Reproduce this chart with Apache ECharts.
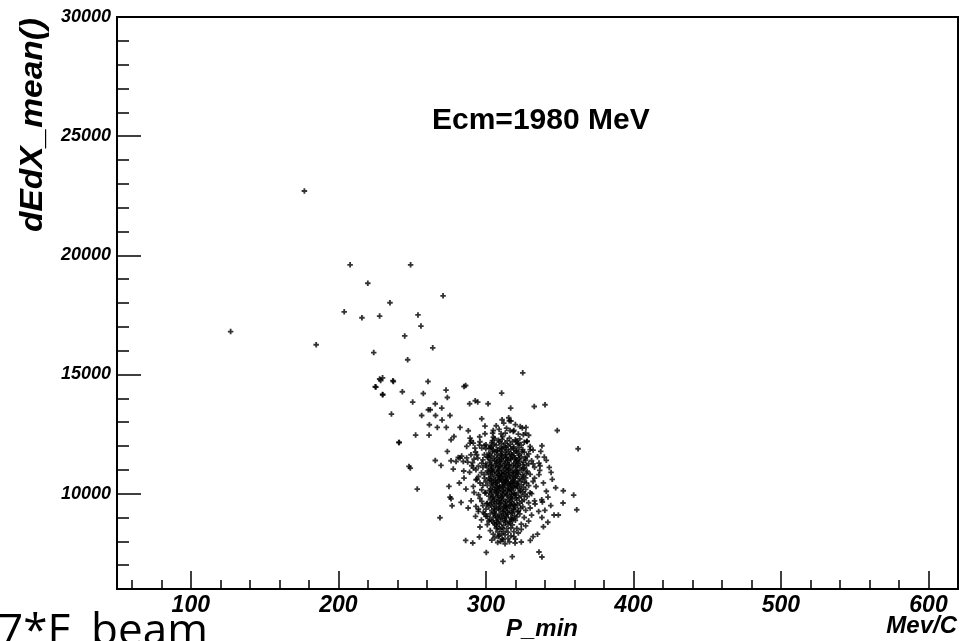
<!DOCTYPE html>
<html><head><meta charset="utf-8">
<script src="https://cdn.jsdelivr.net/npm/echarts@6/dist/echarts.min.js"></script>
<style>html,body{margin:0;padding:0;background:#fff;overflow:hidden}#c{width:967px;height:641px}</style>
</head><body><div id="c"></div>
<script>
// Axis tick labels
const xTicks = [100, 200, 300, 400, 500, 600];
const yTicks = [10000, 15000, 20000, 25000, 30000];
const xRange = [50, 620];
const yRange = [6000, 30000];
const chartTitle = 'Ecm=1980 MeV';
const xTitle = 'P_min';
const xUnit = 'Mev/C';
const yTitle = 'dEdX_mean()';
const cornerNote = '7*E_beam';

// Scattered outliers (P_min, dEdX_mean)
const outerPoints = [
  [127,16800],[177,22700],[185,16250],[208,19600],[220,18830],[235,18010],[204,17630],[216,17380],
  [228,17450],[249,19600],[271,18300],[254,17500],[256,17030],[245,16620],[264,16120],[247,15620],
  [224,15920],[228,14810],[230,14860],[237,14740],[225,14485],[230,14160],[236,13340],[241,12150],[325,15070],
  [225.5,14472],[228.7,14749],[237.3,14707],[260.8,14707],[230.1,14149],[243.4,14275],[257.6,14203],
  [273,14346],[273.9,14036],[285.2,14497],[286.3,14539],[250.4,13843],[265.7,13771],[261,13520],
  [262.3,13520],[270.1,13591],[289,13771],[292.8,13897],[294.5,13843],[301.5,13771],[310.7,14220],
  [256.5,13281],[265.9,13281],[275.7,13281],[270.3,13088],[316.8,13591],[332.8,13658],[340.1,13730],
  [297.2,13142],[315.5,13184],[315.9,13058],[261.7,12891],[267.1,12778],[273.2,12778],[282.5,12778],
  [299.4,12836],[312.1,12962],[288.1,12639],[241.3,12148],[252.4,12459],[261.5,12459],[278.4,12400],
  [276.4,12262],[289.3,12333],[295.8,12388],[299.4,12513],[348.4,12652],[362.5,11884]
];
// Points around the main cluster
const haloPoints = [
  [247.9,11142],[248.8,11075],[253.5,10194],[265.7,11393],[269.6,11184],[273.9,11771],[276.4,11381],
  [275,10303],[275.7,9858],[276.4,9787],[277.1,9494],[283.2,9632],[282,10446],[285.2,10655],[286.5,10194],[268.9,8990],
  [286.3,8038],[291.1,7929],[295.6,8181],[300.3,7535],[311.6,7158],[317.9,7355],[319.8,7929],[324,7971],
  [330.1,8038],[336,7552],[338,7342],[339,8613],[346.2,9104],[349.1,9104],[352.3,9607],[359.5,9942],
  [361.6,9326],[347.3,10249],[352.5,10123],[344.2,10890],[342.1,9858],[337.9,9745],[338.3,9649],[333.3,9565],[335.8,9255],
  [337.2,11771],[339.6,11536],[338,12010],[336,11284],[336.7,11171],[336.5,10974],[327.7,12190],[325.4,12471],
  [327,12543],[324.7,12752],[327.2,12778],[323.3,12819],[316.4,12652],[318.6,12610],[313.2,12543],[304.6,12543],
  [305,12375],[310.3,12513],[311.4,12400],
  [289.9,11633],[293.8,11633],[281.3,11519],[282.5,11494],[283.6,11578],[279.8,11351],[284.7,11351],[287.7,11326],
  [277.9,11033],[291.5,11075],[293.3,11003],[290.4,11171],[292,11452],[294.5,11494],[295,10722],[297.2,11914],
  [295.6,12039],[292.6,11914],[291.5,12123],[289.3,12123],[290.1,12220],[287,11981],[300.1,12052],[302.3,11914],
  [299,11633],[301.5,11519],[297.2,11284],[300.1,11171],[293.3,10584],[291.5,10303],[297.2,10165],[296,10446],
  [295,9955],[299.4,10026],[297.2,9674],[300.6,9577],
  [293.3,9464],[294.9,9255],[298.3,9213],[300.1,9045],[302.7,8906],[305.5,8768],[307.4,8625],[309.6,8516],
  [310.7,8319],[308.4,8206],[310,7996],[311.8,8068],
  [296,12180],[293,11750],[298,11420],[291,11300],[295,11150],[297,10880],[289,10900],[294,10600],[298,10350],
  [292,10050],[296,9800],[290,9700],[298,9500],[295,9350],[299,9150],[293,9050],[297,8900],[301,8700],[296,8600],
  [303,8450],[288,9400],[285,10950],[287,11500],[299,12020],[300,11880],[298,11100],[299,10650],[300,9350],
  [301,9050],[302,8850],[305,8300],[306,8150],[304,8050],[308,7950],[313,7900],[316,7980],[319,8200],[322,8350],
  [324,8500],[327,8650],[329,8850],[331,9100],[330,9400],[333,9700],[331,10000],[334,10300],[333,10650],[336,10800],
  [332,11250],[335,11550],[330,11850],[328,12200],[329,12450],[322,12500],[319,12650],[309,12700],[307,12850],
  [314,12750],[320,12900],[317,13050],[311,13100],[305,12650],
  [341,11400],[343,11100],[345,10600],[339,10450],[341,10100],[344,9500],[340,9300],[338,9000],[342,8800],[335,8300],[332,8200]
];
// Dense core of the cluster
const corePoints = [
  [306,12310],[311,12280],[316,12330],[320,12260],[323,12300],
  [304,12140],[309,12170],[313,12120],[318,12180],[322,12130],[326,12160],
  [303,11990],[307,12030],[312,11970],[315,12010],[319,11960],[324,12040],[330,11980],
  [305,11860],[308,11820],[311,11880],[314,11840],[317,11870],[321,11810],[325,11850],[332,11830],
  [302,11700],[306,11730],[310,11680],[313,11720],[316,11660],[319,11710],[322,11690],[326,11740],[329,11670],
  [301,11540],[304,11570],[308,11520],[311,11560],[314,11530],[318,11580],[320,11510],[324,11550],[328,11560],
  [303,11410],[306,11380],[309,11420],[312,11370],[315,11400],[317,11430],[321,11390],[323,11360],[327,11410],[331,11380],
  [300,11250],[304,11230],[307,11270],[310,11240],[313,11260],[316,11220],[319,11280],[322,11250],[325,11210],[329,11260],
  [302,11100],[305,11080],[308,11120],[311,11090],[314,11110],[317,11070],[320,11130],[323,11100],[326,11080],[333,11110],
  [301,10950],[304,10970],[306,10930],[309,10960],[312,10940],[315,10980],[318,10920],[321,10950],[324,10970],[328,10940],
  [299,10800],[303,10820],[306,10780],[309,10810],[311,10790],[314,10830],[316,10770],[319,10800],[322,10820],[325,10790],[330,10810],
  [302,10650],[305,10630],[308,10670],[310,10640],[313,10660],[315,10620],[318,10650],[320,10680],[323,10640],[327,10660],
  [300,10500],[304,10520],[307,10480],[309,10510],[312,10490],[314,10530],[317,10470],[319,10500],[322,10520],[326,10490],[332,10510],
  [301,10350],[305,10370],[308,10330],[311,10360],[313,10340],[316,10380],[318,10320],[321,10350],[324,10370],[329,10340],
  [303,10200],[306,10180],[309,10220],[312,10190],[315,10210],[317,10170],[320,10230],[323,10200],[327,10180],
  [300,10050],[304,10070],[307,10030],[310,10060],[313,10040],[316,10080],[319,10020],[322,10050],[325,10070],[330,10040],
  [302,9900],[305,9880],[308,9920],[311,9890],[314,9910],[317,9870],[320,9930],[324,9900],[328,9880],
  [303,9750],[306,9770],[309,9730],[312,9760],[315,9740],[318,9780],[321,9720],[326,9750],
  [301,9600],[304,9620],[307,9580],[310,9610],[313,9590],[316,9630],[319,9570],[323,9600],[329,9620],
  [302,9450],[306,9470],[309,9430],[312,9460],[314,9440],[317,9480],[320,9420],[325,9450],
  [304,9300],[307,9320],[310,9280],[313,9310],[316,9290],[319,9330],[322,9270],[327,9300],
  [303,9150],[306,9170],[309,9130],[312,9160],[315,9140],[318,9180],[323,9150],
  [305,9000],[308,9020],[311,8980],[314,9010],[317,8990],[321,9030],[326,9000],
  [304,8850],[307,8870],[310,8830],[313,8860],[316,8840],[320,8880],
  [306,8700],[309,8720],[312,8680],[315,8710],[318,8690],[324,8720],
  [307,8550],[311,8570],[314,8530],[317,8560],[321,8540],
  [308,8400],[312,8420],[315,8380],[319,8410],
  [309,8250],[313,8270],[317,8230],
  [311,8100],[315,8120],[320,8090],
  [310.5,11775],[313.5,11625],[316.5,11475],[309.5,11325],[312.5,11175],[315.5,11025],[318.5,10875],[310.5,10725],
  [313.5,10575],[316.5,10425],[311.5,10275],[314.5,10125],[317.5,9975],[310.5,9825],[313.5,9675],[316.5,9525],
  [311.5,9375],[307.5,11625],[319.5,11475],[306.5,11175],[318.5,11175],[307.5,10875],[312.5,10875],[316.5,10725],
  [306.5,10575],[319.5,10425],[307.5,10275],[318.5,10275],[308.5,10125],[311.5,9975],[320.5,9825],[307.5,9675],
  [319.5,9525],[308.5,9375],[314.5,9225],[310.5,9075],[317.5,8925],
  [304.5,12225],[308.5,12245],[314.5,12215],[320.5,12205],
  [305.5,12075],[310.5,12095],[316.5,12065],[321.5,12085],
  [303.5,11925],[309.5,11915],[313.5,11945],[318.5,11905],[322.5,11935],
  [304.5,11775],[307.5,11795],[315.5,11765],[320.5,11785],[324.5,11765],
  [302.5,11625],[310.5,11605],[317.5,11635],[322.5,11615],
  [305.5,11475],[310.5,11455],[313.5,11495],[322.5,11465],[326.5,11485],
  [302.5,11325],[307.5,11345],[314.5,11315],[320.5,11335],[325.5,11315],
  [303.5,11175],[309.5,11165],[315.5,11195],[321.5,11175],[327.5,11185],
  [303.5,11025],[308.5,11015],[313.5,11045],[320.5,11005],[325.5,11035],
  [301.5,10875],[304.5,10895],[310.5,10865],[315.5,10885],[321.5,10875],[327.5,10865],
  [303.5,10725],[308.5,10745],[313.5,10715],[320.5,10735],[325.5,10725],
  [302.5,10575],[309.5,10585],[311.5,10565],[318.5,10575],[324.5,10595],
  [303.5,10425],[306.5,10445],[312.5,10415],[314.5,10435],[321.5,10425],[327.5,10445],
  [304.5,10275],[309.5,10295],[315.5,10265],[321.5,10285],[325.5,10275],
  [302.5,10125],[306.5,10145],[311.5,10115],[317.5,10135],[323.5,10125],
  [303.5,9975],[307.5,9995],[314.5,9965],[319.5,9985],[326.5,9975],
  [304.5,9825],[308.5,9845],[316.5,9815],[322.5,9835],
  [305.5,9675],[310.5,9695],[317.5,9665],[324.5,9685],
  [303.5,9525],[309.5,9545],[313.5,9515],[321.5,9535],
  [305.5,9375],[314.5,9395],[318.5,9365],[323.5,9385],
  [305.5,9225],[311.5,9245],[317.5,9215],[321.5,9235],
  [306.5,9075],[313.5,9095],[319.5,9065],
  [308.5,8925],[312.5,8945],[318.5,8915],
  [307.5,8775],[313.5,8795],[316.5,8765]
];

const allPoints = outerPoints.concat(haloPoints, corePoints);
const plus = 'path://M2,0H4V2H6V4H4V6H2V4H0V2H2Z';
const tickFont = {color:'#000', fontFamily:'Liberation Sans, Arial, sans-serif', fontWeight:'bold', fontStyle:'italic'};

const chart = echarts.init(document.getElementById('c'), null, {renderer:'canvas'});
chart.setOption({
  animation:false,
  backgroundColor:'#fff',
  grid:{left:117, right:9, top:17, bottom:52, show:true, borderColor:'#000', borderWidth:2, backgroundColor:'transparent'},
  xAxis:{
    type:'value', min:xRange[0], max:xRange[1], splitNumber:5,
    axisLine:{show:true, onZero:false, lineStyle:{color:'#000', width:2}},
    axisTick:{show:true, inside:true, length:18, lineStyle:{color:'#000', width:1.5}},
    minorTick:{show:true, splitNumber:5, length:9, lineStyle:{color:'#000', width:1.5}},
    splitLine:{show:false},
    axisLabel:Object.assign({fontSize:23, margin:5, showMinLabel:false, showMaxLabel:false,
      formatter:v => xTicks.includes(v) ? String(v) : ''}, tickFont)
  },
  yAxis:{
    type:'value', min:yRange[0], max:yRange[1], splitNumber:5,
    axisLine:{show:true, onZero:false, lineStyle:{color:'#000', width:2}},
    axisTick:{show:true, inside:true, length:24, lineStyle:{color:'#000', width:1.5}},
    minorTick:{show:true, splitNumber:5, length:12, lineStyle:{color:'#000', width:1.5}},
    splitLine:{show:false},
    axisLabel:Object.assign({fontSize:18, margin:6, showMinLabel:false,
      formatter:v => yTicks.includes(v) ? String(v) : ''}, tickFont)
  },
  series:[{
    type:'scatter', data:allPoints, symbol:plus, symbolSize:5.5,
    itemStyle:{color:'#000'}, silent:true
  }],
  graphic:[
    {type:'text', left:432, top:106, style:{text:chartTitle, fill:'#000', font:'bold 30px "Liberation Sans", Arial, sans-serif'}},
    {type:'text', x:542, y:629, style:{text:xTitle, fill:'#000', align:'center', verticalAlign:'middle', font:'italic bold 24px "Liberation Sans", Arial, sans-serif'}},
    {type:'text', x:957, y:626, style:{text:xUnit, fill:'#000', align:'right', verticalAlign:'middle', font:'italic bold 24px "Liberation Sans", Arial, sans-serif'}},
    {type:'text', x:33, y:18, rotation:Math.PI/2, scaleX:1.08, style:{text:yTitle, fill:'#000', align:'right', verticalAlign:'middle', font:'italic bold 31px "Liberation Sans", Arial, sans-serif'}},
    {type:'text', x:-2, y:632, style:{text:cornerNote, fill:'#000', align:'left', verticalAlign:'middle', font:'44px "Open Sans", "Noto Sans", sans-serif'}}
  ]
});
</script></body></html>
